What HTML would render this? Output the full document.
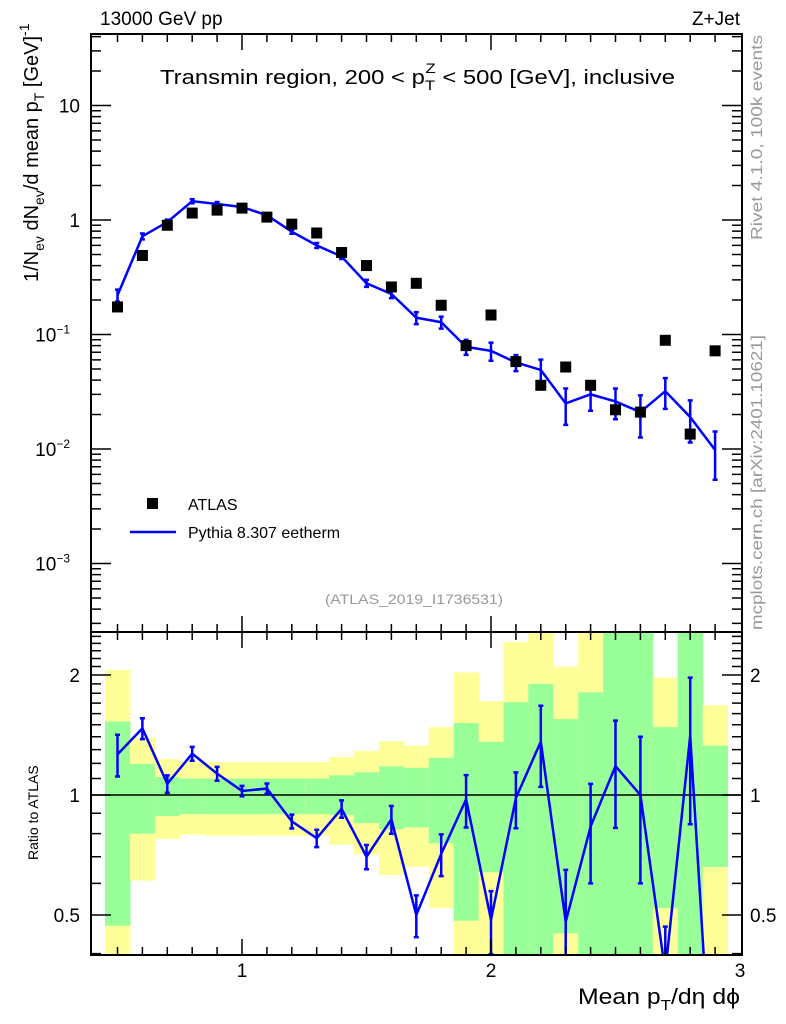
<!DOCTYPE html>
<html><head><meta charset="utf-8"><style>
html,body{margin:0;padding:0;background:#fff;overflow:hidden;width:786px;height:1024px;}
svg{display:block;overflow:hidden;}
svg text{font-family:"Liberation Sans",sans-serif;}
</style></head><body>
<svg id="c" width="786" height="1024" xmlns="http://www.w3.org/2000/svg">
<defs>
<clipPath id="clipMain"><rect x="91" y="34" width="651" height="598"/></clipPath>
<clipPath id="clipRatio"><rect x="91" y="632" width="651" height="323"/></clipPath>
</defs>
<g id="ratioBands" clip-path="url(#clipRatio)"></g>
<g id="marks"></g>
<text x="100" y="25" font-size="19">13000 GeV pp</text>
<text x="740" y="25" font-size="19" text-anchor="end">Z+Jet</text>
<text x="160" y="84" font-size="20" textLength="515" lengthAdjust="spacingAndGlyphs">Transmin region, 200 &lt; p<tspan font-size="14" dy="6">T</tspan><tspan font-size="14" dx="-8" dy="-17">Z</tspan><tspan dy="11"> &lt; 500 [GeV], inclusive</tspan></text>
<text x="325" y="604" font-size="14" fill="#999" textLength="178" lengthAdjust="spacingAndGlyphs">(ATLAS_2019_I1736531)</text>
<text transform="translate(762,240) rotate(-90)" font-size="16" fill="#999" textLength="205" lengthAdjust="spacingAndGlyphs">Rivet 4.1.0,  100k events</text>
<text transform="translate(762,630) rotate(-90)" font-size="16" fill="#999" textLength="295" lengthAdjust="spacingAndGlyphs">mcplots.cern.ch [arXiv:2401.10621]</text>
<text transform="translate(38,282) rotate(-90)" font-size="20">1/N<tspan font-size="14" dy="6">ev</tspan><tspan dy="-6"> dN</tspan><tspan font-size="14" dy="6">ev</tspan><tspan dy="-6">/d mean p</tspan><tspan font-size="14" dy="6">T</tspan><tspan dy="-6"> [GeV]</tspan><tspan font-size="14" dy="-9">-1</tspan></text>
<text transform="translate(38,860) rotate(-90)" font-size="14">Ratio to ATLAS</text>
<text x="578" y="1004" font-size="22" textLength="162" lengthAdjust="spacingAndGlyphs">Mean p<tspan font-size="15" dy="6">T</tspan><tspan dy="-6">/dη dϕ</tspan></text>
<g>
<rect x="147" y="498" width="11" height="11" fill="#000"/>
<text x="188" y="510" font-size="16">ATLAS</text>
<line x1="130" y1="532" x2="176" y2="532" stroke="#00f" stroke-width="2.5"/>
<text x="188" y="538" font-size="16">Pythia 8.307 eetherm</text>
</g>
</svg>
<script>
const xCenters=[0.5,0.6,0.7,0.8,0.9,1.0,1.1,1.2,1.3,1.4,1.5,1.6,1.7,1.8,1.9,2.0,2.1,2.2,2.3,2.4,2.5,2.6,2.7,2.8,2.9];
const atlasValues=[0.174,0.49,0.9,1.15,1.22,1.27,1.06,0.92,0.77,0.52,0.40,0.26,0.28,0.18,0.08,0.148,0.058,0.036,0.052,0.036,0.022,0.021,0.089,0.0135,0.072];
const mcValues=[0.22,0.72,0.96,1.46,1.38,1.3,1.1,0.79,0.6,0.48,0.28,0.226,0.14,0.128,0.078,0.072,0.057,0.049,0.025,0.03,0.026,0.021,0.032,0.019,0.0098];
const mcRelErr=[0.12,0.06,0.05,0.04,0.04,0.03,0.03,0.04,0.05,0.05,0.07,0.08,0.12,0.12,0.15,0.18,0.16,0.23,0.35,0.28,0.3,0.4,0.3,0.4,0.45];
const greenUp=[1.53,1.196,1.11,1.10,1.10,1.10,1.10,1.10,1.10,1.12,1.14,1.18,1.17,1.24,1.515,1.36,1.71,1.9,1.55,1.81,3,3,1.48,3,1.33];
const greenDn=[0.47,0.80,0.886,0.896,0.895,0.895,0.895,0.895,0.895,0.89,0.85,0.82,0.83,0.757,0.484,0.64,0.3,0.3,0.45,0.3,0.3,0.3,0.52,0.3,0.66];
const yellowUp=[2.06,1.39,1.23,1.21,1.21,1.21,1.21,1.21,1.21,1.245,1.29,1.365,1.33,1.48,2.03,1.72,2.42,3,2.1,3,3,3,1.97,3,1.68];
const yellowDn=[0.3,0.61,0.775,0.795,0.79,0.79,0.79,0.79,0.79,0.75,0.71,0.63,0.66,0.52,0.3,0.3,0.3,0.3,0.3,0.3,0.3,0.3,0.3,0.3,0.3];
const xTickLabels=[1,2,3];
const mainTickLabels=[{v:10,t:"10"},{v:1,t:"1"},{v:0.1,t:"10<tspan font-size='12' dy='-8'>−1</tspan>"},{v:0.01,t:"10<tspan font-size='12' dy='-8'>−2</tspan>"},{v:0.001,t:"10<tspan font-size='12' dy='-8'>−3</tspan>"}];
const ratioTickLabels=[2,1,0.5];

const NS="http://www.w3.org/2000/svg";
const marks=document.getElementById('marks');
const bands=document.getElementById('ratioBands');
const X=v=>242+(v-1)*249;
const Y=v=>220-Math.log10(v)*114.5;
const R=v=>795-Math.log2(v)*120;
const L={x0:91,x1:742,t:34,m:632,b:955};
function mk(tag,attrs,parent){const e=document.createElementNS(NS,tag);for(const k in attrs)e.setAttribute(k,attrs[k]);(parent||marks).appendChild(e);return e;}

const bw=0.1;
xCenters.forEach((x,i)=>{
  const y=mk('rect',{x:X(x-bw/2),y:R(yellowUp[i]),width:X(x+bw/2)-X(x-bw/2)+0.5,height:R(yellowDn[i])-R(yellowUp[i]),fill:'#ffff99'},bands);
  
  
  const g=mk('rect',{x:X(x-bw/2),y:R(greenUp[i]),width:X(x+bw/2)-X(x-bw/2)+0.5,height:R(greenDn[i])-R(greenUp[i]),fill:'#99ff99'},bands);
  
  
});
const u=mk('line',{x1:L.x0,x2:L.x1,y1:R(1),y2:R(1),stroke:'#000','stroke-width':1.5});



const gm=mk('g',{'clip-path':'url(#clipMain)'});


const mcLine=mk('polyline',{points:xCenters.map((x,i)=>X(x)+','+Y(mcValues[i])).join(' '),fill:'none',stroke:'#00f','stroke-width':2.5},gm);


xCenters.forEach((x,i)=>{
  const v=mcValues[i],e=v*mcRelErr[i];
  const eb=mk('path',{d:`M${X(x)},${Y(v+e)}V${Y(v-e)}M${X(x)-2.5},${Y(v+e)}h5M${X(x)-2.5},${Y(v-e)}h5`,stroke:'#00f','stroke-width':2.5,fill:'none'},gm);
  
  
  const p=mk('rect',{x:X(x)-5.5,y:Y(atlasValues[i])-5.5,width:11,height:11,fill:'#000'},gm);
  
  
});
const gr=mk('g',{'clip-path':'url(#clipRatio)'});


const ratios=xCenters.map((x,i)=>mcValues[i]/atlasValues[i]);
const rl=mk('polyline',{points:xCenters.map((x,i)=>X(x)+','+R(ratios[i])).join(' '),fill:'none',stroke:'#00f','stroke-width':2.5},gr);


xCenters.forEach((x,i)=>{
  const v=ratios[i],e=v*mcRelErr[i];
  const eb=mk('path',{d:`M${X(x)},${R(v+e)}V${R(v-e)}M${X(x)-2.5},${R(v+e)}h5M${X(x)-2.5},${R(v-e)}h5`,stroke:'#00f','stroke-width':2.5,fill:'none'},gr);
  
  
});

[[L.t,L.m],[L.m,L.b]].forEach(([t,b],k)=>{
  const f=mk('rect',{x:L.x0,y:t,width:L.x1-L.x0,height:b-t,fill:'none',stroke:'#000','stroke-width':2});
  
  
});
let d='';
for(let k=5;k<=29;k++){const v=k/10;const big=(k%10===0);const len=big?16:8;const x=X(v);
  d+=`M${x},${L.t}v${len}M${x},${L.m}v${-len}M${x},${L.m}v${len}M${x},${L.b}v${-len}`;}
const xt=mk('path',{d,stroke:'#000','stroke-width':1.5,fill:'none'});


xTickLabels.forEach(v=>{const t=mk('text',{x:X(v),y:977,'font-size':19,'text-anchor':'middle'});t.textContent=v;
  
  });
d='';
for(let e=-4;e<=1;e++){for(let m=1;m<10;m++){const v=m*Math.pow(10,e);const y=Y(v);if(y<L.t||y>L.m)continue;const len=m===1?20:10;
  d+=`M${L.x0},${y}h${len}M${L.x1},${y}h${-len}`;}}
const yt=mk('path',{d,stroke:'#000','stroke-width':1.5,fill:'none'});


mainTickLabels.forEach(o=>{const t=mk('text',{x:o.v>=1?80:70,y:Y(o.v)+7,'font-size':19,'text-anchor':'end'});t.innerHTML=o.t;
  
  });
d='';
const rt=[0.4,0.5,0.6,0.7,0.8,0.9,1,1.1,1.2,1.3,1.4,1.5,1.6,1.7,1.8,1.9,2,2.1,2.2,2.3,2.4,2.5];
rt.forEach(v=>{const y=R(v);if(y<L.m||y>L.b)return;const big=(v===0.5||v===1||v===2);const len=big?20:10;
  d+=`M${L.x0},${y}h${len}M${L.x1},${y}h${-len}`;});
const ryt=mk('path',{d,stroke:'#000','stroke-width':1.5,fill:'none'});


ratioTickLabels.forEach(v=>{
  const a=mk('text',{x:80,y:R(v)+7,'font-size':19,'text-anchor':'end'});a.textContent=v;
  
  
  const b=mk('text',{x:750,y:R(v)+7,'font-size':19,'text-anchor':'start'});b.textContent=v;
  
  
});
</script>
</body></html>
